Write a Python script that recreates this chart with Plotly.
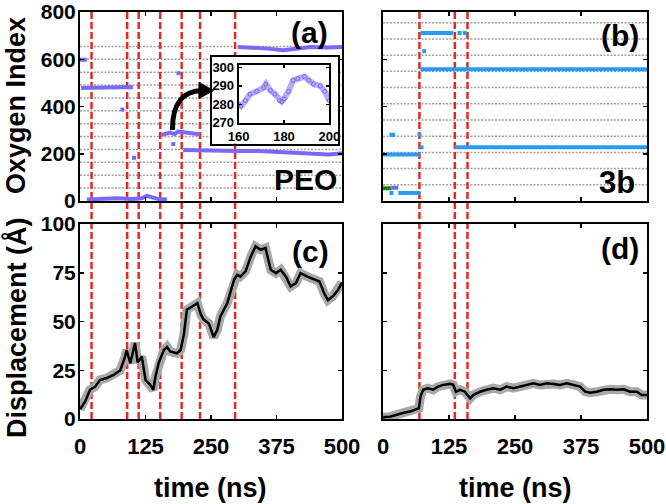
import plotly.graph_objects as go

# ---------------- data ----------------
time_ticks = [0, 125, 250, 375, 500]
oxy_ticks = [0, 200, 400, 600, 800]
disp_ticks = [0, 25, 50, 75, 100]
inset_x_ticks = [160, 180, 200]
inset_y_ticks = [270, 280, 290, 300]

# chain boundaries (grey dotted lines)
peo_chain_bounds = [54.5, 109, 163.5, 218, 272.5, 327, 381.5, 436, 490.5, 545, 599.5, 654]
b3_chain_bounds = [68.6, 137.2, 205.8, 274.4, 343, 411.6, 480.2, 548.8, 617.4, 686, 754.6]

# hopping events (red dashed lines), ns
peo_events = [22, 90, 112, 153, 194, 229, 296]
b3_events = [69, 136, 160]

# (a) PEO coordinating oxygen index segments
peo_seg1_t = [0, 13]
peo_seg1_y = [598, 598]
peo_seg2_t = [2, 25, 50, 75, 101]
peo_seg2_y = [478, 480, 483, 481, 482]
peo_seg3_t = [13, 40, 70, 100, 118, 128, 138, 150, 166]
peo_seg3_y = [6, 10, 12, 8, 12, 22, 14, 8, 6]
peo_seg4_t = [155, 165, 172, 180, 187, 195, 210, 229]
peo_seg4_y = [280, 285, 290, 283, 294, 292, 286, 282]
peo_seg5_t = [197, 230, 270, 300, 340, 380, 420, 450, 475, 500]
peo_seg5_y = [216, 214, 213, 212, 212, 208, 205, 200, 197, 202]
peo_seg6_t = [301, 330, 360, 388, 410, 440, 470, 500]
peo_seg6_y = [652, 650, 645, 638, 644, 652, 650, 652]
peo_dots_t = [81, 103, 178, 188]
peo_dots_y = [387, 183, 241, 541]

# inset of (a)
inset_t = [160, 161, 163, 165, 168, 171, 172, 174, 176, 178, 179, 180, 182, 184, 186, 189, 191, 193, 196, 198, 200]
inset_v = [280, 279, 282, 285.5, 287, 289, 291, 287.5, 285.5, 282, 281.5, 283, 287, 293, 294, 295, 293, 291, 290, 287, 282]

# (b) 3b coordinating oxygen index segments
b3_seg1_t = [0, 71]
b3_seg1_y = [197, 197]
b3_seg2_t = [29, 71]
b3_seg2_y = [34, 34]
b3_green_t = [0, 16]
b3_green_y = [54, 54]
b3_purple_t = [16, 29]
b3_purple_y = [56, 56]
b3_seg5_t = [71, 133]
b3_seg5_y = [711, 711]
b3_seg6_t = [71, 500]
b3_seg6_y = [558, 558]
b3_seg7_t = [136, 500]
b3_seg7_y = [227, 227]
b3_dots_t = [16, 16, 19, 69, 73, 78, 145, 155]
b3_dots_y = [34, 280, 280, 281, 227, 634, 711, 711]

# (c) PEO displacement
disp_c_t = [0, 3, 10, 19, 29, 38, 51, 64, 77, 86, 89, 96, 105, 110, 118, 125, 134, 140, 144, 150,
            160, 166, 172, 185, 192, 198, 204, 214, 224, 230, 236, 246, 255, 262, 268, 281, 287,
            294, 300, 306, 316, 326, 335, 345, 354, 364, 374, 383, 393, 402, 412, 421, 434, 447,
            457, 466, 473, 482, 492, 500]
disp_c = [5, 6.3, 9, 15, 16.6, 20, 21, 22.6, 25, 32, 35.4, 28.6, 39, 29, 32, 20, 17.5, 15, 21.7, 28.6,
          35.4, 37, 34.6, 33.7, 35.4, 43, 56, 57.7, 59.4, 54, 51, 49, 42, 45.7, 52.6, 59.4, 64.5,
          71.4, 74, 73, 75.7, 83.4, 88.5, 86.8, 87.7, 76.5, 74.8, 76.5, 73, 68, 69.7, 74.8, 73, 71.4,
          70.5, 64.5, 61, 62.8, 66, 70]

# (d) 3b displacement
disp_d_t = [0, 3, 13, 22, 32, 41, 51, 60, 68, 71, 76, 85, 95, 104, 114, 127, 133, 138, 146, 155,
            165, 171, 184, 196, 209, 222, 234, 247, 259, 272, 285, 297, 310, 323, 335, 348, 361,
            373, 383, 392, 405, 418, 430, 443, 456, 468, 481, 490, 500]
disp_d = [0.5, 1, 1.2, 2, 2.6, 3.3, 3.8, 4.6, 5.5, 11.5, 15, 15.8, 15, 16.6, 17.5, 18, 17.5, 14, 15, 14,
          10.6, 12.3, 14, 15, 15.8, 15, 16.6, 15.8, 16.6, 17.5, 18.3, 17.5, 18.3, 18, 17.5, 18.3, 17.5,
          16.6, 14, 13.5, 14, 15, 15.2, 15, 15.2, 14, 14, 12.3, 12.3]

# ---------------- styling / geometry ----------------
W, H = 666, 504
FONT = "Liberation Sans, Arial, sans-serif"
PURPLE = "#7a68fb"
BLUE = "#2b9af3"
GREEN = "#1f7a1f"
RED = "#e8281e"
GREY = "#a0a0a0"


def px(x):
    return x / W


def py(y):
    return 1 - y / H


XA = [px(80), px(342)]
XB = [px(383), px(647)]
YT = [py(201), py(12)]
YB = [py(419), py(224)]
FRAME_X = [px(211.5), px(338)]
FRAME_Y = [py(143.5), py(57)]
INSET_X = [px(238.7), px(329.3)]
INSET_Y = [py(123.3), py(65)]

fig = go.Figure()


def seg(t, y, color, xa, ya, width=4):
    fig.add_trace(go.Scatter(x=t, y=y, mode="lines", line=dict(color=color, width=width),
                             xaxis=xa, yaxis=ya, showlegend=False, hoverinfo="skip"))


def dots(t, y, color, xa, ya, size=4):
    fig.add_trace(go.Scatter(x=t, y=y, mode="markers", marker=dict(color=color, size=size, symbol="square"),
                             xaxis=xa, yaxis=ya, showlegend=False, hoverinfo="skip"))


# (a)
for t, y in [(peo_seg1_t, peo_seg1_y), (peo_seg2_t, peo_seg2_y), (peo_seg3_t, peo_seg3_y),
             (peo_seg4_t, peo_seg4_y), (peo_seg5_t, peo_seg5_y), (peo_seg6_t, peo_seg6_y)]:
    seg(t, y, PURPLE, "x", "y")
dots(peo_dots_t, peo_dots_y, PURPLE, "x", "y")

# (b)
for t, y in [(b3_seg1_t, b3_seg1_y), (b3_seg2_t, b3_seg2_y), (b3_seg5_t, b3_seg5_y),
             (b3_seg6_t, b3_seg6_y), (b3_seg7_t, b3_seg7_y)]:
    seg(t, y, BLUE, "x2", "y2")
seg(b3_green_t, b3_green_y, GREEN, "x2", "y2")
seg(b3_purple_t, b3_purple_y, PURPLE, "x2", "y2")
dots(b3_dots_t, b3_dots_y, BLUE, "x2", "y2")

# (c) and (d): grey halo + black line
for t, d, xa, ya in [(disp_c_t, disp_c, "x3", "y3"), (disp_d_t, disp_d, "x4", "y4")]:
    fig.add_trace(go.Scatter(x=t, y=d, mode="lines", line=dict(color="#a8a8a8", width=9),
                             xaxis=xa, yaxis=ya, showlegend=False, hoverinfo="skip"))
    fig.add_trace(go.Scatter(x=t, y=d, mode="lines", line=dict(color="black", width=2.5),
                             xaxis=xa, yaxis=ya, showlegend=False, hoverinfo="skip"))

# frame subplot (white box behind inset)
fig.add_trace(go.Scatter(x=[], y=[], xaxis="x5", yaxis="y5", showlegend=False, hoverinfo="skip"))

# inset
fig.add_trace(go.Scatter(x=inset_t, y=inset_v, mode="lines+markers",
                         line=dict(color="rgba(122,104,251,0.55)", width=6),
                         marker=dict(color=PURPLE, size=4, symbol="circle-open"),
                         xaxis="x6", yaxis="y6", showlegend=False, hoverinfo="skip"))

shapes = []
# grey chain-boundary lines (lower layer, paper x)
for v in peo_chain_bounds:
    shapes.append(dict(type="line", xref="paper", yref="y", x0=XA[0], x1=XA[1], y0=v, y1=v,
                       line=dict(color=GREY, width=1.5, dash="2px,1.5px"), layer="below"))
for v in b3_chain_bounds:
    shapes.append(dict(type="line", xref="paper", yref="y2", x0=XB[0], x1=XB[1], y0=v, y1=v,
                       line=dict(color=GREY, width=1.5, dash="2px,1.5px"), layer="below"))
# red dashed event lines spanning top and bottom panels
for t in peo_events:
    shapes.append(dict(type="line", xref="x", yref="paper", x0=t, x1=t, y0=YB[0], y1=YT[1],
                       line=dict(color=RED, width=2.5, dash="7px,3px"), layer="below"))
for t in b3_events:
    shapes.append(dict(type="line", xref="x2", yref="paper", x0=t, x1=t, y0=YB[0], y1=YT[1],
                       line=dict(color=RED, width=2.5, dash="7px,3px"), layer="below"))

# curved arrow pointing to the inset
arrow_path = "M {:.4f},{:.4f} C {:.4f},{:.4f} {:.4f},{:.4f} {:.4f},{:.4f}".format(
    px(172.5), py(130), px(172), py(101), px(185), py(91), px(202), py(90.5))
shapes.append(dict(type="path", xref="paper", yref="paper", path=arrow_path,
                   line=dict(color="black", width=5), layer="above"))
head_path = "M {:.4f},{:.4f} L {:.4f},{:.4f} L {:.4f},{:.4f} Z".format(
    px(199), py(82.5), px(213.5), py(90.5), px(199), py(98.5))
shapes.append(dict(type="path", xref="paper", yref="paper", path=head_path,
                   fillcolor="black", line=dict(color="black", width=1), layer="above"))

xfont = dict(family=FONT, size=22, color="black", weight="bold")
yfont = dict(family=FONT, size=21, color="black", weight="bold")


def axis(domain, anchor, rng, tickvals, labels=True, font=xfont, standoff=None, **kw):
    d = dict(domain=domain, anchor=anchor, range=rng, tickvals=tickvals,
             showticklabels=labels, tickfont=font, ticks="inside", ticklen=4,
             tickwidth=1.5, tickcolor="black", showline=True, linewidth=2, linecolor="black",
             mirror="ticks", showgrid=False, zeroline=False, fixedrange=True, automargin=False,
             ticklabeloverflow="allow")
    if standoff is not None:
        d["ticklabelstandoff"] = standoff
    d.update(kw)
    return d


annotations = []


def text(s, x, y, size, angle=0):
    annotations.append(dict(text="<b>" + s + "</b>", x=px(x), y=py(y), xref="paper", yref="paper",
                            showarrow=False, textangle=angle, xanchor="center", yanchor="middle",
                            font=dict(family=FONT, size=size, color="black")))


text("(a)", 309, 33, 30)
text("PEO", 305, 179, 30)
text("(b)", 620, 36, 30)
text("3b", 617, 182, 31)
text("(c)", 310, 251, 30)
text("(d)", 620, 248, 30)
text("Oxygen Index", 16, 106, 27, -90)
text("Displacement (Å)", 16, 328, 27, -90)
text("time (ns)", 210, 488, 27)
text("time (ns)", 515, 488, 27)

small = dict(family=FONT, size=13, color="black", weight="bold")

plain = dict(showticklabels=False, ticks="", showline=True, mirror=True, linewidth=2,
             linecolor="black", showgrid=False, zeroline=False, fixedrange=True,
             automargin=False, range=[0, 1])

fig.update_layout(
    width=W, height=H, autosize=False,
    margin=dict(l=0, r=0, t=0, b=0, pad=0, autoexpand=False),
    paper_bgcolor="white", plot_bgcolor="white",
    showlegend=False,
    xaxis=axis(XA, "y", [0, 500], [125, 250, 375], labels=False),
    yaxis=axis(YT, "x", [0, 800], oxy_ticks, font=yfont, standoff=-2),
    xaxis2=axis(XB, "y2", [0, 500], [125, 250, 375], labels=False),
    yaxis2=axis(YT, "x2", [0, 800], [200, 400, 600], labels=False),
    xaxis3=axis(XA, "y3", [0, 500], time_ticks, standoff=7),
    yaxis3=axis(YB, "x3", [0, 100], disp_ticks, font=yfont, standoff=-2),
    xaxis4=axis(XB, "y4", [0, 500], time_ticks, standoff=7),
    yaxis4=axis(YB, "x4", [0, 100], [25, 50, 75], labels=False),
    xaxis5=dict(domain=FRAME_X, anchor="y5", **plain),
    yaxis5=dict(domain=FRAME_Y, anchor="x5", **plain),
    xaxis6=axis(INSET_X, "y6", [160, 200], inset_x_ticks, font=small, ticklen=3),
    yaxis6=axis(INSET_Y, "x6", [269.7, 301.3], inset_y_ticks, font=small, ticklen=3),
    shapes=shapes,
    annotations=annotations,
)

fig.write_html("out.html", config={"displayModeBar": False, "staticPlot": True},
               post_script="document.body.style.margin='0px';document.body.style.overflow='hidden';")
